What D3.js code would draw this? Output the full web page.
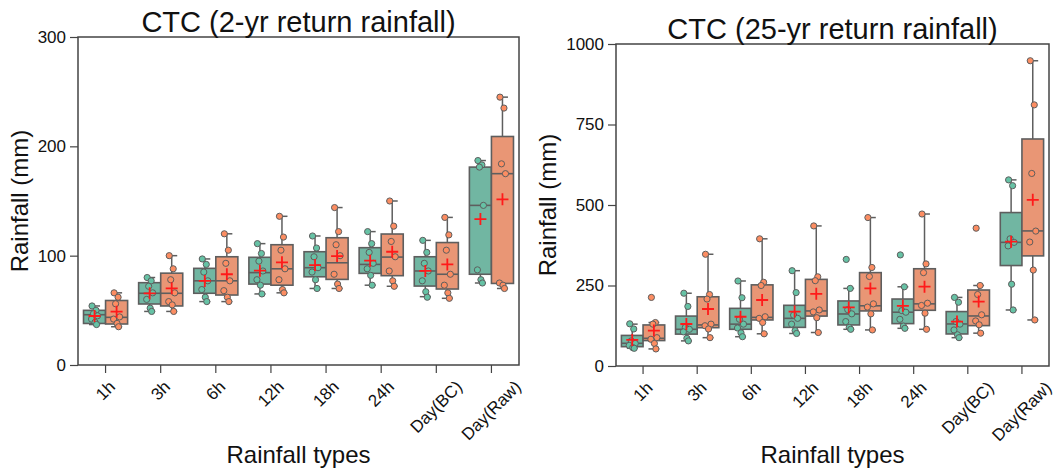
<!DOCTYPE html>
<html>
<head>
<meta charset="utf-8">
<script src="https://cdn.jsdelivr.net/npm/d3@7"></script>
<style>
  body { margin: 0; background: #fff; }
  svg { display: block; }
  text { font-family: "Liberation Sans", Arial, sans-serif; fill: #111; }
</style>
</head>
<body>
<svg id="chart" width="1057" height="475"></svg>
<script>
// Rainfall durations on the x axis
const categories = ["1h", "3h", "6h", "12h", "18h", "24h", "Day(BC)", "Day(Raw)"];

// Y-axis tick values for each panel
const ticks2yr = [0, 100, 200, 300];
const ticks25yr = [0, 250, 500, 750, 1000];

// ---- 2-yr return rainfall ----
// box statistics per category: [whisker low, Q1, median, Q3, whisker high]
const statsA2 = [
  [37, 38, 46, 50, 54], [49, 55.8, 65.6, 75.3, 80], [58, 65.6, 77, 88.4, 97],
  [65, 74, 84.5, 98.5, 111], [70, 80.7, 89, 103.6, 118], [73, 83.8, 92, 107.3, 122],
  [62.5, 72.2, 86, 99, 114], [75, 83, 146, 181, 187]
];
const statsB2 = [
  [35, 37.5, 43.6, 59, 66], [49, 54, 65.6, 84, 100], [58, 64, 77, 99, 120],
  [66, 73, 88, 110, 136], [70, 78.3, 93.5, 116.4, 144], [72, 81.7, 98.7, 119.8, 150],
  [61, 69.5, 83, 112, 135], [70, 74.6, 175, 209, 245]
];
const meanA2 = [44.8, 65.6, 76.9, 86.3, 91.4, 95.4, 86, 133.5];
const meanB2 = [48.8, 70.1, 83, 93.9, 99.6, 103.6, 92, 151.5];
const pointsA2 = [
  [54, 50, 47, 45, 42, 39, 37], [80, 77, 72, 66, 60, 52, 49], [97, 92, 85, 77, 69, 62, 58],
  [111, 102, 95, 86, 78, 73, 65], [118, 107, 99, 89, 85, 78, 70], [122, 111, 103, 93, 88, 82, 73],
  [114, 103, 93, 86, 77, 67, 62], [187, 183, 181, 146, 87, 78, 75]
];
const pointsB2 = [
  [66, 62, 56, 44, 42, 38, 35], [100, 88, 78, 66, 58, 55, 49], [120, 105, 93, 77, 68, 62, 58],
  [136, 117, 105, 88, 78, 69, 66], [144, 122, 110, 100, 83, 74, 70], [150, 127, 113, 99, 86, 77, 72],
  [135, 119, 105, 83, 73, 66, 61], [245, 235, 184, 175, 75, 73, 70]
];

// ---- 25-yr return rainfall ----
const statsA25 = [
  [55, 60, 70.5, 95, 130], [78, 99, 114, 155, 226], [91, 114, 130, 179, 264],
  [101, 120, 148, 188.5, 296], [114, 127.5, 161.6, 202, 241], [117, 131.6, 167, 208, 246],
  [88, 99.5, 130.6, 169, 213], [174, 312, 384, 476.5, 578]
];
const statsB25 = [
  [53, 79, 86, 127.5, 135], [88, 119, 127.5, 215, 347], [100, 143, 151, 252, 395],
  [104, 155, 171, 269, 435], [112, 171, 187, 290, 461], [114, 173, 193, 302, 472],
  [102, 125.4, 155.4, 236, 250], [143, 342, 419.5, 705, 948]
];
const meanA25 = [81, 130.5, 153, 169, 182, 187, 138, 386];
const meanB25 = [110, 177, 205, 224, 241, 246.5, 200, 516];
const pointsA25 = [
  [131, 115, 78, 70, 64, 57, 55], [226, 185, 120, 114, 106, 86, 78], [264, 212, 145, 130, 118, 103, 91],
  [296, 228, 158, 148, 130, 110, 101], [331, 241, 175, 162, 138, 120, 114], [345, 246, 172, 167, 145, 124, 117],
  [213, 198, 138, 130, 112, 97, 88], [578, 560, 395, 384, 373, 254, 174]
];
const pointsB25 = [
  [213, 135, 130, 88, 83, 70, 53], [347, 222, 208, 130, 125, 115, 88], [395, 260, 250, 153, 148, 135, 100],
  [435, 277, 265, 174, 168, 150, 104], [461, 306, 278, 193, 183, 162, 112], [472, 317, 290, 195, 188, 164, 114],
  [428, 250, 222, 159, 140, 128, 102], [948, 811, 598, 419, 385, 298, 143]
];

// Colours: desaturated box fills, full-strength strip points
const boxFill = ["#71b6a2", "#e99675"];
const dotFill = ["#66c2a5", "#fc8d62"];
const edge = "#5e5e5e";
const axisColor = "#444";

const svg = d3.select("#chart");

const panels = [
  { title: "CTC (2-yr return rainfall)", left: 78, right: 519, top: 37, bottom: 365, yMax: 300,
    ticks: ticks2yr, stats: [statsA2, statsB2], means: [meanA2, meanB2], points: [pointsA2, pointsB2], ylabX: 28 },
  { title: "CTC (25-yr return rainfall)", left: 616, right: 1049, top: 44, bottom: 366, yMax: 1000,
    ticks: ticks25yr, stats: [statsA25, statsB25], means: [meanA25, meanB25], points: [pointsA25, pointsB25], ylabX: 556 }
];

// small fixed horizontal spread for strip points
const spread = [-2.5, 1.5, -1, 3, -3, 0.5, 2];

panels.forEach(p => {
  const g = svg.append("g");
  const x = d3.scaleBand().domain(categories).range([p.left, p.right]).padding(0);
  const y = d3.scaleLinear().domain([0, p.yMax]).range([p.bottom, p.top]);
  const bw = x.bandwidth();
  const half = bw * 0.2;       // half-width of one dodged box
  const capHalf = bw * 0.1;

  // boxes and whiskers
  [0, 1].forEach(h => {
    const off = (h === 0 ? -1 : 1) * bw * 0.2;
    const grp = g.append("g");
    p.stats[h].forEach((s, i) => {
      const cx = x(categories[i]) + bw / 2 + off;
      const [lo, q1, med, q3, hi] = s;
      grp.append("line").attr("x1", cx).attr("x2", cx).attr("y1", y(q3)).attr("y2", y(hi))
        .attr("stroke", edge).attr("stroke-width", 1.5);
      grp.append("line").attr("x1", cx).attr("x2", cx).attr("y1", y(q1)).attr("y2", y(lo))
        .attr("stroke", edge).attr("stroke-width", 1.5);
      [lo, hi].forEach(v => grp.append("line")
        .attr("x1", cx - capHalf).attr("x2", cx + capHalf).attr("y1", y(v)).attr("y2", y(v))
        .attr("stroke", edge).attr("stroke-width", 1.5));
      grp.append("rect").attr("x", cx - half).attr("width", half * 2)
        .attr("y", y(q3)).attr("height", y(q1) - y(q3))
        .attr("fill", boxFill[h]).attr("stroke", edge).attr("stroke-width", 1.6);
      grp.append("line").attr("x1", cx - half).attr("x2", cx + half).attr("y1", y(med)).attr("y2", y(med))
        .attr("stroke", edge).attr("stroke-width", 1.6);
    });
  });

  // strip points
  [0, 1].forEach(h => {
    const off = (h === 0 ? -1 : 1) * bw * 0.2;
    p.points[h].forEach((arr, i) => {
      const cx = x(categories[i]) + bw / 2 + off;
      g.append("g").selectAll("circle").data(arr).join("circle")
        .attr("cx", (d, k) => cx + spread[k % spread.length])
        .attr("cy", d => y(d))
        .attr("r", 3.1)
        .attr("fill", dotFill[h]).attr("stroke", edge).attr("stroke-width", 1);
    });
  });

  // mean markers
  [0, 1].forEach(h => {
    const off = (h === 0 ? -1 : 1) * bw * 0.2;
    p.means[h].forEach((m, i) => {
      const cx = x(categories[i]) + bw / 2 + off;
      const cy = y(m);
      g.append("path").attr("d", `M${cx - 6},${cy}H${cx + 6}M${cx},${cy - 6}V${cy + 6}`)
        .attr("stroke", "#ff1a1a").attr("stroke-width", 1.8).attr("fill", "none");
    });
  });

  // frame
  g.append("rect").attr("x", p.left).attr("y", p.top)
    .attr("width", p.right - p.left).attr("height", p.bottom - p.top)
    .attr("fill", "none").attr("stroke", axisColor).attr("stroke-width", 1.5);

  // y axis
  const ya = g.append("g").attr("transform", `translate(${p.left},0)`)
    .call(d3.axisLeft(y).tickValues(p.ticks).tickSize(8).tickPadding(4).tickFormat(d3.format("d")));
  ya.select(".domain").remove();
  ya.selectAll(".tick line").attr("stroke", axisColor).attr("stroke-width", 1.2);
  ya.selectAll(".tick text").attr("font-size", 17).attr("fill", "#111")
    .attr("font-family", '"Liberation Sans", Arial, sans-serif');

  // x axis ticks
  const xa = g.append("g").attr("transform", `translate(0,${p.bottom})`)
    .call(d3.axisBottom(x).tickSize(8).tickFormat(""));
  xa.select(".domain").remove();
  xa.selectAll(".tick line").attr("stroke", axisColor).attr("stroke-width", 1.2);

  // rotated x tick labels, rotated box centred under the tick
  categories.forEach(c => {
    const cx = x(c) + bw / 2;
    const t = g.append("text").attr("font-size", 17).attr("text-anchor", "middle")
      .attr("dominant-baseline", "central").text(c);
    const w = t.node().getComputedTextLength();
    const hgt = 17 * 1.15;
    const boxH = (w + hgt) * Math.SQRT1_2;
    const cy = p.bottom + 8 + 4 + boxH / 2;
    t.attr("x", cx).attr("y", cy).attr("transform", `rotate(-45,${cx},${cy})`);
  });

  // titles and axis labels
  g.append("text").attr("x", (p.left + p.right) / 2).attr("y", p.top - 5)
    .attr("text-anchor", "middle").attr("font-size", 29).text(p.title);
  g.append("text").attr("x", (p.left + p.right) / 2).attr("y", 463)
    .attr("text-anchor", "middle").attr("font-size", 24).text("Rainfall types");
  const my = (p.top + p.bottom) / 2;
  g.append("text").attr("transform", `translate(${p.ylabX},${my}) rotate(-90)`)
    .attr("text-anchor", "middle").attr("font-size", 24).text("Rainfall (mm)");
});
</script>
</body>
</html>
